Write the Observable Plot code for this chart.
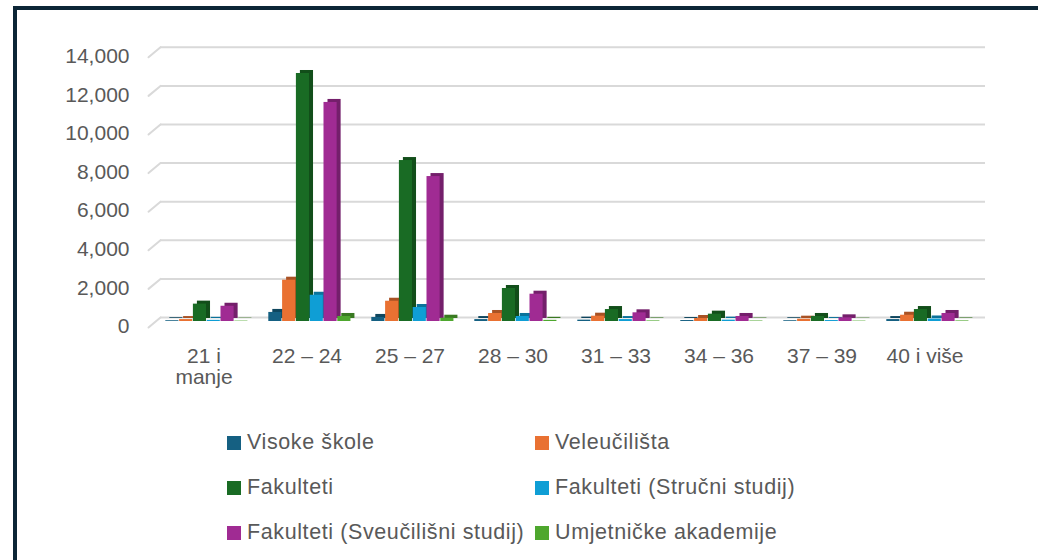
<!DOCTYPE html>
<html>
<head>
<meta charset="utf-8">
<script src="https://cdn.jsdelivr.net/npm/d3@7"></script>
<script src="https://cdn.jsdelivr.net/npm/@observablehq/plot@0.6"></script>
<style>
  html, body { margin: 0; padding: 0; background: #ffffff; }
  #page { position: relative; width: 1038px; height: 560px; overflow: hidden; background: #fff; font-family: "Liberation Sans", Arial, sans-serif; }
  .bt { position: absolute; left: 13px; top: 6px; width: 1025px; height: 4px; background: #0c2636; }
  .bl { position: absolute; left: 13px; top: 6px; width: 4px; height: 554px; background: #0c2636; }
  #chart { position: absolute; left: 0; top: 0; }
  #legend { position: absolute; left: 227px; top: 420px; display: grid; grid-template-columns: 308px auto; grid-auto-rows: 45px; align-items: center; }
  .item { display: flex; align-items: center; gap: 6px; font-size: 21.5px; letter-spacing: 0.6px; color: #595959; white-space: nowrap; }
  .sw { width: 14px; height: 14px; flex: none; }
</style>
</head>
<body>
<div id="page">
  <div id="chart"></div>
  <div class="bt"></div>
  <div class="bl"></div>
  <div id="legend"></div>
</div>
<script>
// Categories (age groups)
const groups = ["21 i\nmanje", "22 – 24", "25 – 27", "28 – 30", "31 – 33", "34 – 36", "37 – 39", "40 i više"];
// Series names
const seriesNames = ["Visoke škole", "Veleučilišta", "Fakulteti", "Fakulteti (Stručni studij)", "Fakulteti (Sveučilišni studij)", "Umjetničke akademije"];
const seriesColors = ["#156082", "#e97132", "#196b24", "#0f9ed5", "#a02b93", "#4ea72e"];
// Series values
const visokeSkole = [40, 470, 210, 100, 70, 50, 40, 100];
const veleucilista = [100, 2140, 1050, 415, 275, 155, 120, 325];
const fakulteti = [900, 12850, 8340, 1710, 620, 380, 260, 620];
const fakStrucni = [60, 1360, 725, 260, 100, 70, 50, 130];
const fakSveucilisni = [790, 11350, 7510, 1415, 450, 260, 190, 415];
const umjetnicke = [20, 260, 170, 60, 30, 25, 20, 30];
// Y tick labels
const yTicks = [0, 2000, 4000, 6000, 8000, 10000, 12000, 14000];

const seriesValues = [visokeSkole, veleucilista, fakulteti, fakStrucni, fakSveucilisni, umjetnicke];

const W = 1038, H = 410;
const xRange = [153, 980];
const bw = (xRange[1] - xRange[0]) / groups.length;
const firstOffset = 10.3, step = 13.8, barW = 13.5;

const marks = [
  Plot.ruleY(yTicks, {y: d => d, dy: -4, stroke: "#d9d9d9", strokeWidth: 2}),
  Plot.vector(yTicks, {
    y: d => d, frameAnchor: "left", length: 15.6, rotate: 230.2, anchor: "start", dy: -4,
    stroke: "#d9d9d9", strokeWidth: 2,
    shape: {draw(context, l) { context.moveTo(0, 0); context.lineTo(0, -l); }}
  })
];

seriesValues.forEach((vals, i) => {
  const data = groups.map((g, j) => ({group: g, value: vals[j]}));
  const insetLeft = firstOffset + step * i;
  const insetRight = bw - insetLeft - barW;
  const c = seriesColors[i];
  marks.push(Plot.barY(data, {x: "group", y: "value", fill: d3.color(c).darker(0.9).formatHex(), dx: 4, dy: -3, insetLeft, insetRight}));
  marks.push(Plot.barY(data, {x: "group", y: "value", fill: c, insetLeft, insetRight}));
});

marks.push(Plot.axisY({ticks: yTicks, tickSize: 0, tickPadding: 31, dy: 5, tickFormat: d3.format(","), fontSize: 21, label: null}));
marks.push(Plot.axisX({tickSize: 0, tickPadding: 27, dx: -3, fontSize: 21, label: null, lineHeight: 1}));

const chart = Plot.plot({
  width: W,
  height: H,
  marginLeft: 160,
  marginRight: 53,
  marginTop: 40,
  marginBottom: 89,
  x: {type: "band", domain: groups, range: xRange, padding: 0, label: null},
  y: {domain: [0, 14000], range: [321, 321 - 7 * 38.6], label: null},
  style: {fontFamily: "'Liberation Sans', Arial, sans-serif", color: "#595959", background: "transparent", overflow: "visible"},
  marks
});
document.getElementById("chart").appendChild(chart);

const legend = document.getElementById("legend");
seriesNames.forEach((name, i) => {
  const item = document.createElement("div");
  item.className = "item";
  const sw = document.createElement("span");
  sw.className = "sw";
  sw.style.background = seriesColors[i];
  const t = document.createElement("span");
  t.textContent = name;
  item.appendChild(sw);
  item.appendChild(t);
  legend.appendChild(item);
});
</script>
</body>
</html>
